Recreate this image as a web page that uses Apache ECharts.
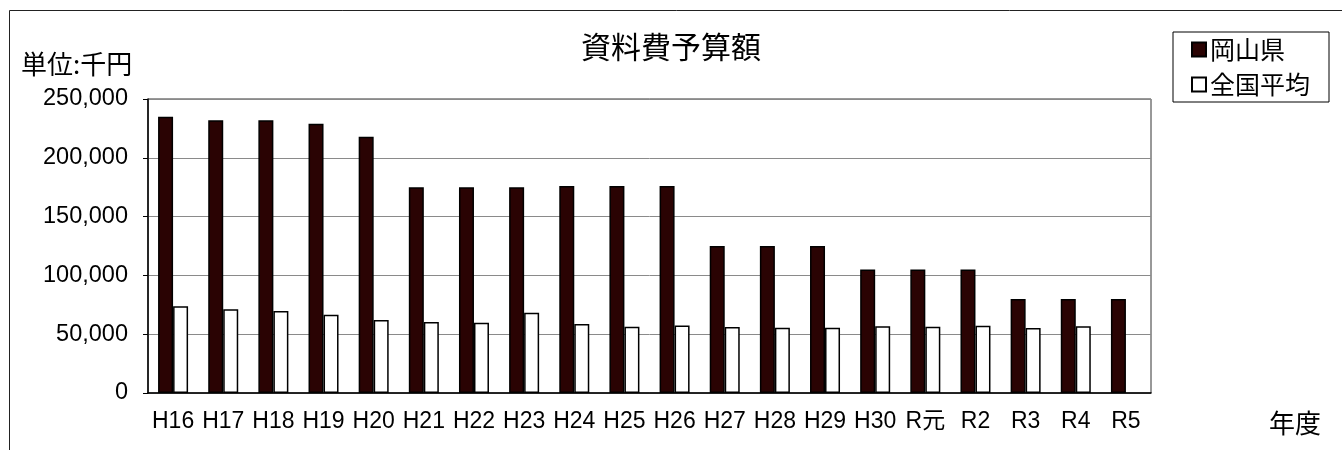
<!DOCTYPE html>
<html>
<head>
<meta charset="utf-8">
<script src="https://cdn.jsdelivr.net/npm/echarts@6/dist/echarts.min.js"></script>
<style>
html,body{margin:0;padding:0;background:#fff;}
#chart{width:1342px;height:450px;}
</style>
</head>
<body>
<div id="chart"></div>
<script>
const categories = ['H16','H17','H18','H19','H20','H21','H22','H23','H24','H25','H26','H27','H28','H29','H30','R元','R2','R3','R4','R5'];
const okayama = [235000,232000,232000,229000,218000,175000,175000,175000,176000,176000,176000,125000,125000,125000,105000,105000,105000,80000,80000,80000];
const national = [73700,71200,69700,66600,62100,60400,59800,68300,58700,56400,57500,56100,55500,55500,56700,56400,57200,55300,56700,null];
const yTicks = {min:0, max:250000, interval:50000};

const FONT = "'Noto Sans CJK JP', 'Noto Sans', sans-serif";
const NUMFONT = "'Liberation Sans', 'Noto Sans CJK JP', sans-serif";
const chart = echarts.init(document.getElementById('chart'), null, {renderer:'canvas'});
chart.setOption({
  animation:false,
  backgroundColor:'#fff',
  textStyle:{fontFamily:FONT, color:'#000'},
  title:{
    text:'資料費予算額', left:'center', top:32, padding:0,
    textStyle:{fontFamily:FONT, fontSize:30, fontWeight:'normal', color:'#000'}
  },
  legend:{
    orient:'vertical', left:1173, top:32,
    padding:[5,19,5,18], itemGap:10,
    borderColor:'#000', borderWidth:1,
    itemWidth:14, itemHeight:14, icon:'rect',
    textStyle:{fontFamily:FONT, fontSize:25, color:'#000', lineHeight:25, padding:[0,0,0,-1]},
    data:['岡山県','全国平均']
  },
  grid:{left:148, top:99, right:191, bottom:57, show:true, borderColor:'#333', borderWidth:1},
  xAxis:{
    type:'category', data:categories,
    axisLine:{lineStyle:{color:'#000', width:1.5}},
    axisTick:{inside:true, length:7, lineStyle:{color:'#000'}},
    axisLabel:{fontFamily:NUMFONT, fontSize:23, color:'#000', margin:17, interval:0}
  },
  yAxis:{
    type:'value', min:yTicks.min, max:yTicks.max, interval:yTicks.interval,
    axisLine:{show:true, lineStyle:{color:'#000', width:1.5}},
    axisTick:{show:true, length:5, lineStyle:{color:'#000'}},
    axisLabel:{fontFamily:NUMFONT, fontSize:23.5, color:'#000', margin:20,
      formatter:v=>v.toLocaleString('en-US')},
    splitLine:{lineStyle:{color:'#8a8a8a', width:1}}
  },
  graphic:[
    {type:'rect', silent:true, z:-1, shape:{x:9.5, y:10.5, width:1400, height:500},
      style:{fill:'none', stroke:'#222', lineWidth:1}},
    {type:'text', left:21, top:51, style:{text:'単位:千円', font:"26px 'Noto Sans CJK JP', sans-serif", fill:'#000'}},
    {type:'text', left:1269, top:410, style:{text:'年度', font:"26px 'Noto Sans CJK JP', sans-serif", fill:'#000'}}
  ],
  series:[
    {name:'岡山県', type:'bar', data:okayama, barWidth:15, barGap:'0%',
      itemStyle:{color:'#2a0303', borderColor:'#000', borderWidth:1.5}},
    {name:'全国平均', type:'bar', data:national, barWidth:15,
      itemStyle:{color:'#ffffff', borderColor:'#000', borderWidth:1.5}}
  ]
});
</script>
</body>
</html>
